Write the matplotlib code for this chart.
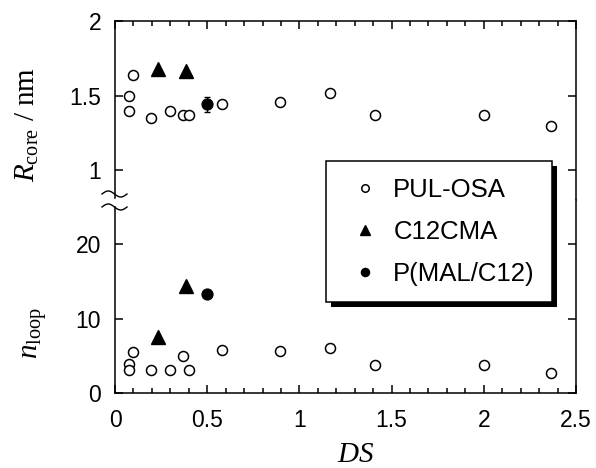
import numpy as np
import matplotlib
matplotlib.use('Agg')
import matplotlib.pyplot as plt
from matplotlib.ticker import MultipleLocator
from matplotlib.patches import Rectangle
from matplotlib.lines import Line2D

plt.rcParams['font.family'] = ['Liberation Sans', 'DejaVu Sans']
plt.rcParams['mathtext.fontset'] = 'custom'
plt.rcParams['mathtext.rm'] = 'Liberation Serif'
plt.rcParams['mathtext.it'] = 'Liberation Serif:italic'

# data
pul_ds = [0.078, 0.078, 0.10, 0.196, 0.30, 0.371, 0.40, 0.58, 0.897, 1.168, 1.41, 2.0, 2.364]
pul_r = [1.50, 1.395, 1.64, 1.347, 1.395, 1.366, 1.366, 1.445, 1.454, 1.515, 1.366, 1.366, 1.294]
pul_n = [3.9, 3.03, 5.47, 3.03, 3.03, 4.93, 3.03, 5.83, 5.6, 6.0, 3.8, 3.8, 2.67]

cma_ds = [0.235, 0.384]
cma_r = [1.68, 1.665]
cma_n = [7.55, 14.3]

mal_ds = [0.50]
mal_r = [1.44]
mal_r_err = [0.05]
mal_n = [13.26]

W, H = 596, 468
fig = plt.figure(figsize=(W / 100, H / 100), dpi=100)

# axes box in pixels: left 115, right 576, top 21, split 200, bottom 393
left, right, top, split, bottom = 115, 576, 21, 200, 393
ax_top = fig.add_axes([left / W, 1 - split / H, (right - left) / W, (split - top) / H])
ax_bot = fig.add_axes([left / W, 1 - bottom / H, (right - left) / W, (bottom - split) / H])

tick_fs = 16.5
leg_fs = 18.5
label_fs = 21
lw = 1.1

ax_top.plot(pul_ds, pul_r, 'o', mfc='white', mec='black', ms=7.2, mew=1.1)
ax_top.plot(cma_ds, cma_r, '^', color='black', ms=10)
ax_top.errorbar(mal_ds, mal_r, yerr=mal_r_err, fmt='o', color='black', ms=7.8,
                capsize=2.5, elinewidth=1, capthick=1)

ax_bot.plot(pul_ds, pul_n, 'o', mfc='white', mec='black', ms=7.2, mew=1.1, label='PUL-OSA')
ax_bot.plot(cma_ds, cma_n, '^', color='black', ms=10, label='C12CMA')
ax_bot.plot(mal_ds, mal_n, 'o', color='black', ms=7.8, label='P(MAL/C12)')

ax_top.set_xlim(0, 2.5)
ax_bot.set_xlim(0, 2.5)
ax_top.set_ylim(2 - (split - top) / 149, 2)
ax_bot.set_ylim(0, (bottom - split) / 7.45)

ax_top.set_yticks([1, 1.5, 2])
ax_top.set_yticklabels(['1', '1.5', '2'])
ax_bot.set_yticks([0, 10, 20])
for ax in (ax_top, ax_bot):
    ax.xaxis.set_major_locator(MultipleLocator(0.5))
    ax.xaxis.set_minor_locator(MultipleLocator(0.1))
    for s in ax.spines.values():
        s.set_linewidth(lw)
    ax.tick_params(which='both', direction='in', width=lw, labelsize=tick_fs)
    ax.tick_params(which='major', length=6)
    ax.tick_params(which='minor', length=3.5)
    ax.tick_params(axis='y', which='both', left=True, right=True, pad=10)

ax_top.spines['bottom'].set_visible(False)
ax_top.tick_params(axis='x', which='both', bottom=False, top=True, labelbottom=False)
ax_bot.spines['top'].set_visible(False)
ax_bot.tick_params(axis='x', which='both', bottom=True, top=False, pad=11.5)
ax_bot.xaxis.set_major_formatter(plt.FuncFormatter(lambda v, p: f'{v:g}'))

# break in left spine
ax_top.spines['left'].set_bounds(2 - (198 - top) / 149, 2)
ax_bot.spines['left'].set_bounds(0, (bottom - 207) / 7.45)

xs = np.linspace(102, 127, 60)
for yc in (194, 207):
    ys = yc - 3 * np.sin(2 * np.pi * (xs - 102) / 25)
    fig.add_artist(Line2D(xs / W, 1 - ys / H, color='black', lw=1.0, transform=fig.transFigure))

fig.text(27 / W, 1 - 124 / H, r'$R_{\rm core}$ / nm', rotation=90, ha='center', va='center',
         fontsize=label_fs, family='Liberation Serif')
fig.text(35 / W, 1 - 333 / H, r'$n_{\rm loop}$', rotation=90, ha='center', va='center',
         fontsize=label_fs)
fig.text(356 / W, 1 - 454 / H, r'$DS$', ha='center', va='center', fontsize=label_fs)

handles, labels = ax_bot.get_legend_handles_labels()
leg = fig.legend(handles, labels, loc='upper left', bbox_to_anchor=(326 / W, 1 - 161 / H),
                 fontsize=leg_fs, frameon=True, fancybox=False, framealpha=1,
                 facecolor='white', borderpad=0.65, handlelength=1.7, handletextpad=0.27,
                 labelspacing=0.7, markerscale=0.75, borderaxespad=0)
leg.get_frame().set_edgecolor('black')
leg.get_frame().set_linewidth(lw)
leg.set_zorder(6)

# hard black drop shadow
fig.canvas.draw()
bb = leg.get_window_extent()
off = 5
fig.add_artist(Rectangle(((bb.x0 + off) / W, (bb.y0 - off) / H), bb.width / W, bb.height / H,
                         transform=fig.transFigure, facecolor='black', edgecolor='none', zorder=5))

fig.savefig('out.png', dpi=100)
